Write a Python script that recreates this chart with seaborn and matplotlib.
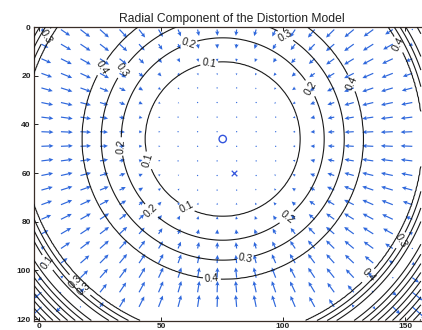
import numpy as np
import matplotlib
matplotlib.use("Agg")
import matplotlib.pyplot as plt
import seaborn as sns

# Image geometry (pixels)
image_width = 160
image_height = 120
principal_point = (75.3, 46.0)
image_center = (80.0, 60.0)

# Radial shift profile (pixels, positive = toward the principal point)
profile_radius = [0.0, 20.0, 31.8, 41.6, 49.8, 57.6, 66.0, 73.0, 78.0, 82.0,
                  86.0, 90.0, 94.0, 98.0, 102.0, 106.0, 110.0, 114.0]
profile_shift = [0.0, 0.035, 0.1, 0.2, 0.3, 0.4, 0.455, 0.47, 0.45, 0.4,
                 0.2, 0.0, -0.2, -0.4, -0.6, -0.8, -1.0, -1.2]

# Arrow sampling grid and contour levels
arrow_x = list(range(1, image_width, 8))
arrow_y = list(range(1, image_height, 6))
contour_levels = [0.1, 0.2, 0.3, 0.4, 0.5, 0.6, 0.7, 0.8, 0.9, 1.0]

# Where the level labels sit along the lines
label_spots = [
    (69.3, 12.3), (60.2, 74.4), (42.6, 55.5),
    (61.1, 6.2), (46.7, 74.8), (99.6, 75.6), (31.1, 49.3), (109.8, 25.9),
    (33.2, 16.9), (84.4, 93.7), (100.0, 5.3),
    (24.2, 15.6), (70.9, 102.8), (125.4, 23.8),
    (3.3, 4.1), (145.9, 8.2), (132.8, 99.9), (148.0, 87.5),
    (18.9, 106.9), (3.7, 96.6), (14.8, 104.8),
]

x_ticks = [0, 50, 100, 150]
y_ticks = [0, 20, 40, 60, 80, 100, 120]
title = "Radial Component of the Distortion Model"

arrow_color = "#2f68dc"
marker_color = "#3355dd"


def radial_displacement(x, y):
    dx = x - principal_point[0]
    dy = y - principal_point[1]
    r = np.hypot(dx, dy)
    shift = np.interp(r, profile_radius, profile_shift)
    scale = np.divide(shift, r, out=np.zeros_like(r), where=r > 0)
    return -scale * dx, -scale * dy


sns.set_theme(style="white")
plt.rcParams["font.family"] = ["Liberation Sans", "DejaVu Sans"]

fig = plt.figure(figsize=(4.22, 3.30), dpi=100)
ax = fig.add_axes([33.5 / 422, 9.5 / 330, 395.9 / 422, 293.4 / 330])

# displacement arrows
QX, QY = np.meshgrid(np.array(arrow_x, float), np.array(arrow_y, float))
U, V = radial_displacement(QX, QY)
ax.quiver(QX, QY, U, V, angles="xy", scale_units="xy", scale=0.094,
          color=arrow_color, width=0.0030, headwidth=3.6, headlength=3.8,
          headaxislength=3.2, minlength=1.2, zorder=2)

# shift magnitude contours over the visible part of the image
FX, FY = np.meshgrid(np.linspace(-2.25, 156.5, 320),
                     np.linspace(0, 120.6, 242))
FU, FV = radial_displacement(FX, FY)
mag = np.hypot(FU, FV)
cs = ax.contour(FX, FY, mag, levels=contour_levels, colors="#1a1a1a",
                linewidths=0.8, zorder=3)
ax.clabel(cs, fmt="%.1f", fontsize=7.5, inline=True, inline_spacing=2,
          manual=label_spots)

# principal point and image centre
sns.scatterplot(x=[principal_point[0]], y=[principal_point[1]], marker="o",
                s=28, facecolors="none", edgecolor=marker_color,
                linewidth=1.0, ax=ax, zorder=4)
sns.scatterplot(x=[image_center[0]], y=[image_center[1]], marker="x",
                s=16, color=marker_color, linewidth=0.9, ax=ax, zorder=4)

ax.set_xlim(-2.25, image_width)
ax.set_ylim(120.6, 0)
ax.set_xticks(x_ticks)
ax.set_yticks(y_ticks)
ax.set_xticklabels([str(t) for t in x_ticks], fontsize=6, fontweight="bold")
ax.set_yticklabels([str(t) for t in y_ticks], fontsize=6, fontweight="bold")
ax.tick_params(direction="in", length=3, width=0.7, pad=2,
               top=True, right=True, bottom=True, left=True, colors="#222222")
for side in ax.spines.values():
    side.set_color("#3a2e28")
    side.set_linewidth(0.9)
ax.set_xlabel("")
ax.set_ylabel("")
ax.set_title(title, fontsize=8.7, pad=4, color="#222222")

fig.savefig("out.png", dpi=100)
